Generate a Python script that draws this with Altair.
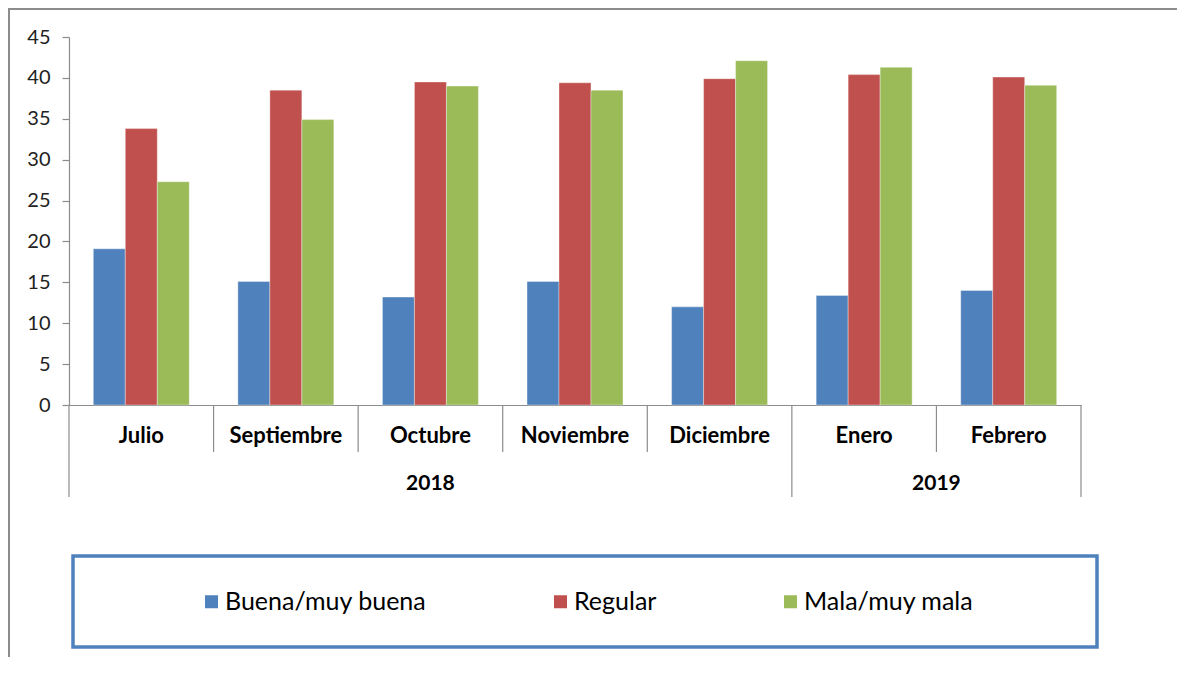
import altair as alt
import pandas as pd

# ---- data ----
months = ["Julio", "Septiembre", "Octubre", "Noviembre", "Diciembre", "Enero", "Febrero"]
years = ["2018", "2018", "2018", "2018", "2018", "2019", "2019"]
series = ["Buena/muy buena", "Regular", "Mala/muy mala"]
buena = [19.1, 15.1, 13.2, 15.1, 12.0, 13.4, 14.0]
regular = [33.8, 38.5, 39.5, 39.4, 39.9, 40.4, 40.1]
mala = [27.3, 34.9, 39.0, 38.5, 42.1, 41.3, 39.1]
colors = ["#4F81BD", "#C0504D", "#9BBB59"]
y_ticks = [0, 5, 10, 15, 20, 25, 30, 35, 40, 45]

rows = []
for i, m in enumerate(months):
    for s, vals in zip(series, [buena, regular, mala]):
        rows.append({"month": m, "year": years[i], "serie": s, "value": vals[i]})
df = pd.DataFrame(rows)

sep_df = pd.DataFrame({"month": months, "year": years})
year_df = pd.DataFrame({"year": ["2018", "2019"], "month": ["Octubre", "Enero"]})
box_df = pd.DataFrame({"part": ["legend"]})
top_df = pd.DataFrame({"part": ["top"]})
left_df = pd.DataFrame({"part": ["left"]})

FONT = "Lato"
GRAY = "#8C8C8C"
W, H = 1012, 368
PAD_R, PAD_B = 96, 252

x_enc = dict(sort=months, scale=alt.Scale(paddingInner=0, paddingOuter=0))

bars = alt.Chart(df).mark_bar(stroke="white", strokeWidth=0.6, strokeOpacity=0.6).encode(
    x=alt.X("month:N", title=None, **x_enc,
            axis=alt.Axis(ticks=False, domainColor=GRAY, domainWidth=1.2, labelAngle=0,
                          labelFont=FONT, labelFontSize=22, labelFontWeight="bold",
                          labelColor="#000000", labelPadding=20, labelLimit=0)),
    xOffset=alt.XOffset("serie:N", sort=series,
                        scale=alt.Scale(paddingInner=0, paddingOuter=0.76)),
    y=alt.Y("value:Q", title=None,
            scale=alt.Scale(domain=[0, 45], nice=False),
            axis=alt.Axis(values=y_ticks, grid=False, domainColor=GRAY, domainWidth=1.2,
                          tickColor=GRAY, tickSize=7, tickWidth=1.2,
                          labelFont=FONT, labelFontSize=20, labelColor="#222222",
                          labelPadding=12)),
    color=alt.Color("serie:N", sort=series,
                    scale=alt.Scale(domain=series, range=colors),
                    legend=alt.Legend(title=None, orient="none", direction="horizontal",
                                      legendX=130, legendY=552,
                                      symbolType="square", symbolSize=169,
                                      symbolStrokeWidth=0, symbolOpacity=1,
                                      labelFont=FONT, labelFontSize=25, labelLimit=0,
                                      labelColor="#000000", labelOffset=1,
                                      columnPadding=121, padding=0)),
)

short_sep = alt.Chart(sep_df).transform_filter(
    "datum.month != 'Julio' && datum.month != 'Enero'"
).mark_rule(color=GRAY, strokeWidth=1.2).encode(
    x=alt.X("month:N", bandPosition=0, **x_enc),
    y=alt.value(H), y2=alt.value(H + 47),
)
long_sep = alt.Chart(sep_df).transform_filter(
    "datum.month == 'Julio' || datum.month == 'Enero'"
).mark_rule(color=GRAY, strokeWidth=1.2).encode(
    x=alt.X("month:N", bandPosition=0, **x_enc),
    y=alt.value(H), y2=alt.value(H + 92),
)
right_sep = alt.Chart(sep_df).transform_filter(
    "datum.month == 'Febrero'"
).mark_rule(color=GRAY, strokeWidth=1.2).encode(
    x=alt.X("month:N", bandPosition=1, **x_enc),
    y=alt.value(H), y2=alt.value(H + 92),
)

year18 = alt.Chart(year_df).transform_filter("datum.year == '2018'").mark_text(
    font=FONT, fontSize=21, fontWeight="bold", color="#000000", baseline="middle"
).encode(x=alt.X("month:N", bandPosition=0.5, **x_enc), y=alt.value(H + 79), text="year:N")
year19 = alt.Chart(year_df).transform_filter("datum.year == '2019'").mark_text(
    font=FONT, fontSize=21, fontWeight="bold", color="#000000", baseline="middle"
).encode(x=alt.X("month:N", bandPosition=1, **x_enc), y=alt.value(H + 79), text="year:N")

legend_box = alt.Chart(box_df).mark_rect(fill=None, stroke="#4F81BD", strokeWidth=3.5).encode(
    x=alt.value(4), x2=alt.value(1028), y=alt.value(519), y2=alt.value(610)
)
frame_top = alt.Chart(top_df).mark_rect(fill="#8C8C8C", strokeWidth=0).encode(
    x=alt.value(-61), x2=alt.value(W + PAD_R), y=alt.value(-29), y2=alt.value(-27)
)
frame_left = alt.Chart(left_df).mark_rect(fill="#8C8C8C", strokeWidth=0).encode(
    x=alt.value(-61), x2=alt.value(-59), y=alt.value(-29), y2=alt.value(H + PAD_B)
)

chart = alt.layer(
    frame_top, frame_left, legend_box, bars, short_sep, long_sep, right_sep, year18, year19
).properties(
    width=W, height=H,
    padding={"left": 61, "top": 29, "right": PAD_R, "bottom": PAD_B},
    autosize=alt.AutoSizeParams(type="none"),
).configure(
    background="white",
    view=alt.ViewConfig(strokeWidth=0, strokeOpacity=0),
)

chart.save("out.html", embed_options={"renderer": "svg", "actions": False})
